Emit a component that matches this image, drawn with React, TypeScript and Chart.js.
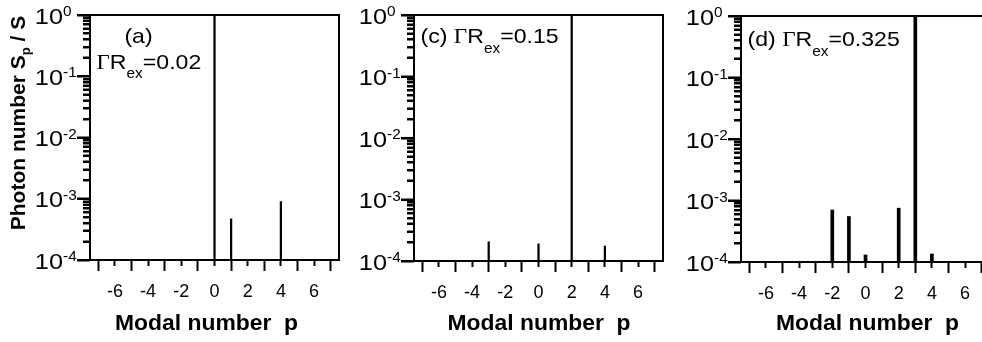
import React, { useEffect, useRef } from "react";
import { Chart, registerables } from "chart.js";

Chart.register(...registerables);

const SANS = "'Liberation Sans', Arial, Helvetica, sans-serif";
const SERIF = "'Liberation Serif', 'Times New Roman', serif";

// ---- data ----
const MODES_A = [0, 1, 4];
const PHOTONS_A = [1, 4.7e-4, 9.0e-4];
const MODES_C = [-3, 0, 2, 4];
const PHOTONS_C = [2.05e-4, 1.9e-4, 1, 1.75e-4];
const MODES_D = [-2, -1, 0, 2, 3, 4];
const PHOTONS_D = [7.0e-4, 5.5e-4, 1.3e-4, 7.5e-4, 1, 1.35e-4];

const X_MAJOR = [-6, -4, -2, 0, 2, 4, 6];
const X_MINOR = [-7, -5, -3, -1, 1, 3, 5, 7];
const Y_DECADES = [1e-4, 1e-3, 1e-2, 1e-1, 1];
const Y_MINOR_FACTORS = [2, 3, 4, 5, 6, 7, 8, 9];
const X_MIN = -7.5;
const X_MAX = 7.5;
const Y_MIN = 1e-4;
const Y_MAX = 1;

const PANEL_TAGS = ["(a)", "(c)", "(d)"];
const GAMMA_VALUES = ["0.02", "0.15", "0.325"];
const X_TITLE = "Modal number  p";
const Y_TITLE_MAIN = "Photon number S";
const Y_TITLE_SUB = "p";
const Y_TITLE_TAIL = " / S";

const Y_MINOR: number[] = [];
Y_DECADES.slice(0, -1).forEach((d) =>
  Y_MINOR_FACTORS.forEach((f) => Y_MINOR.push(+(d * f).toPrecision(3)))
);

// ---- layout ----
const CW = 360;
const CH = 342;
const AXIS_W = 90;
const PLOT_W = 249;
const TEXT_STRETCH = 1.1;

type Spec = {
  modes: number[];
  photons: number[];
  tag: string;
  gamma: string;
  left: number;
  top: number;
  bottom: number;
  stem: number;
  yTitle: boolean;
  titleShift: number;
  inline: boolean;
  labelBaseline: number;
};

const SPECS: Spec[] = [
  { modes: MODES_A, photons: PHOTONS_A, tag: PANEL_TAGS[0], gamma: GAMMA_VALUES[0], left: 0, top: 15, bottom: 260, stem: 1.6, yTitle: true, titleShift: -8, inline: false, labelBaseline: 68.5 },
  { modes: MODES_C, photons: PHOTONS_C, tag: PANEL_TAGS[1], gamma: GAMMA_VALUES[1], left: 324, top: 15, bottom: 261, stem: 1.6, yTitle: false, titleShift: 0.5, inline: true, labelBaseline: 43 },
  { modes: MODES_D, photons: PHOTONS_D, tag: PANEL_TAGS[2], gamma: GAMMA_VALUES[2], left: 651, top: 16, bottom: 262, stem: 3, yTitle: false, titleShift: 2, inline: true, labelBaseline: 46 },
];

function sText(
  ctx: CanvasRenderingContext2D,
  text: string,
  x: number,
  y: number,
  align: "left" | "right" | "center",
  sx: number
) {
  const w = ctx.measureText(text).width * sx;
  const x0 = align === "left" ? x : align === "right" ? x - w : x - w / 2;
  ctx.save();
  ctx.translate(x0, y);
  ctx.scale(sx, 1);
  ctx.textAlign = "left";
  ctx.fillText(text, 0, 0);
  ctx.restore();
  return w;
}

function drawGamma(ctx: CanvasRenderingContext2D, x: number, base: number, value: string) {
  ctx.textBaseline = "alphabetic";
  ctx.font = `21px ${SERIF}`;
  x += sText(ctx, "\u0393", x, base, "left", TEXT_STRETCH);
  ctx.font = `21px ${SANS}`;
  x += sText(ctx, "R", x, base, "left", TEXT_STRETCH);
  ctx.font = `14px ${SANS}`;
  x += sText(ctx, "ex", x, base + 9.5, "left", TEXT_STRETCH);
  ctx.font = `21px ${SANS}`;
  sText(ctx, "=" + value, x, base, "left", TEXT_STRETCH);
}

function makePlugin(spec: Spec) {
  return {
    id: "panelDecor",
    afterDraw(chart: any) {
      const ctx: CanvasRenderingContext2D = chart.ctx;
      const a = chart.chartArea;
      const yScale = chart.scales.y;
      const yMinor = chart.scales.y2;
      ctx.save();
      ctx.strokeStyle = "#000";
      ctx.fillStyle = "#000";
      ctx.textBaseline = "alphabetic";
      for (const t of yScale.ticks) {
        const py = yScale.getPixelForValue(t.value);
        const exp = Math.round(Math.log10(t.value));
        ctx.font = `22px ${SANS}`;
        sText(ctx, "10", a.left - 27, py + 8.5, "right", 1.15);
        ctx.font = `14px ${SANS}`;
        sText(ctx, String(exp), a.left - 27, py + 1, "left", 1.1);
      }
      ctx.font = `bold 22px ${SANS}`;
      sText(ctx, X_TITLE, (a.left + a.right) / 2 + spec.titleShift, 330, "center", 1.04);
      const lx = a.left + 6.5;
      ctx.font = `21px ${SANS}`;
      if (spec.inline) {
        const tagText = spec.tag + " ";
        const w = sText(ctx, tagText, lx, spec.labelBaseline, "left", TEXT_STRETCH);
        drawGamma(ctx, lx + w, spec.labelBaseline, spec.gamma);
      } else {
        sText(ctx, spec.tag, a.left + 48.5, 42.5, "center", TEXT_STRETCH);
        drawGamma(ctx, lx, spec.labelBaseline, spec.gamma);
      }
      if (spec.yTitle) {
        ctx.save();
        ctx.translate(18, 123);
        ctx.rotate(-Math.PI / 2);
        ctx.textAlign = "left";
        ctx.font = `bold 21px ${SANS}`;
        const w1 = ctx.measureText(Y_TITLE_MAIN).width;
        const w3 = ctx.measureText(Y_TITLE_TAIL).width;
        ctx.font = `bold 13px ${SANS}`;
        const w2 = ctx.measureText(Y_TITLE_SUB).width;
        let x = -(w1 + w2 + w3) / 2;
        const b = 7;
        ctx.font = `bold 21px ${SANS}`;
        ctx.fillText(Y_TITLE_MAIN, x, b);
        x += w1;
        ctx.font = `bold 13px ${SANS}`;
        ctx.fillText(Y_TITLE_SUB, x, b + 5);
        x += w2;
        ctx.font = `bold 21px ${SANS}`;
        ctx.fillText(Y_TITLE_TAIL, x, b);
        ctx.restore();
      }
      ctx.restore();

      // y tick marks and frame, drawn last
      ctx.save();
      ctx.globalCompositeOperation = "source-over";
      ctx.globalAlpha = 1;
      ctx.fillStyle = "#000000";
      ctx.strokeStyle = "#000000";
      const edge = Math.round(a.left);
      ctx.beginPath();
      for (const t of yMinor.ticks) {
        const py = Math.round(yScale.getPixelForValue(t.value));
        ctx.rect(edge - 7, py - 1, 7, 2);
      }
      for (const t of yScale.ticks) {
        const py = Math.round(yScale.getPixelForValue(t.value));
        ctx.rect(edge - 13, py - 1, 13, 2);
      }
      ctx.fill();
      ctx.lineWidth = 2;
      ctx.strokeRect(a.left, a.top, a.right - a.left, a.bottom - a.top);
      ctx.restore();
    },
  };
}

function Panel({ spec }: { spec: Spec }) {
  const ref = useRef<HTMLCanvasElement | null>(null);
  useEffect(() => {
    if (!ref.current) return;
    const tickGrid = (len: number) => ({
      display: true,
      drawOnChartArea: false,
      drawTicks: true,
      tickLength: len,
      tickWidth: 2,
      tickColor: "#000",
    });
    const chart = new Chart(ref.current, {
      type: "bar",
      data: {
        datasets: [
          {
            data: spec.modes.map((m, i) => ({ x: m, y: spec.photons[i] })),
            backgroundColor: "#000",
            borderWidth: 0,
            barThickness: spec.stem,
            xAxisID: "x",
            yAxisID: "y",
          } as any,
        ],
      },
      options: {
        responsive: false,
        animation: false,
        events: [],
        layout: { padding: { left: 0, right: CW - AXIS_W - PLOT_W, top: spec.top, bottom: 0 } },
        plugins: { legend: { display: false }, tooltip: { enabled: false } },
        scales: {
          x: {
            type: "linear",
            position: "bottom",
            weight: 1,
            min: X_MIN,
            max: X_MAX,
            offset: false,
            afterBuildTicks: (s: any) => {
              s.ticks = X_MAJOR.map((v) => ({ value: v }));
            },
            afterFit: (s: any) => {
              s.height = CH - spec.bottom;
            },
            grid: tickGrid(11),
            border: { display: false },
            ticks: {
              color: "#000",
              font: { family: SANS, size: 18 },
              padding: 10,
              maxRotation: 0,
              autoSkip: false,
              callback: (v: any) => String(v),
            },
          },
          x2: {
            type: "linear",
            position: "bottom",
            weight: 0,
            min: X_MIN,
            max: X_MAX,
            offset: false,
            afterBuildTicks: (s: any) => {
              s.ticks = X_MINOR.map((v) => ({ value: v }));
            },
            afterFit: (s: any) => {
              s.height = 0;
            },
            grid: tickGrid(6),
            border: { display: false },
            ticks: { display: false },
          },
          y: {
            type: "logarithmic",
            position: "left",
            weight: 1,
            min: Y_MIN,
            max: Y_MAX,
            afterBuildTicks: (s: any) => {
              s.ticks = Y_DECADES.map((v) => ({ value: v, major: true }));
            },
            afterFit: (s: any) => {
              s.width = AXIS_W;
            },
            grid: tickGrid(13),
            border: { display: false },
            ticks: { display: true, autoSkip: false, color: "rgba(0,0,0,0)", font: { size: 1 }, callback: () => "" },
          },
          y2: {
            type: "logarithmic",
            position: "left",
            weight: 0,
            min: Y_MIN,
            max: Y_MAX,
            afterBuildTicks: (s: any) => {
              s.ticks = Y_MINOR.map((v) => ({ value: v }));
            },
            afterFit: (s: any) => {
              s.width = 0;
            },
            grid: tickGrid(7),
            border: { display: false },
            ticks: { display: false },
          },
        },
      } as any,
      plugins: [makePlugin(spec)],
    });
    return () => chart.destroy();
  }, [spec]);
  return (
    <div style={{ position: "absolute", left: spec.left, top: 0, width: CW, height: CH }}>
      <canvas ref={ref} width={CW} height={CH} style={{ width: CW, height: CH, display: "block" }} />
    </div>
  );
}

export default function App() {
  return (
    <div
      style={{
        position: "fixed",
        left: 0,
        top: 0,
        width: 982,
        height: 342,
        overflow: "hidden",
        background: "#fff",
      }}
    >
      {SPECS.map((s, i) => (
        <Panel key={i} spec={s} />
      ))}
    </div>
  );
}
